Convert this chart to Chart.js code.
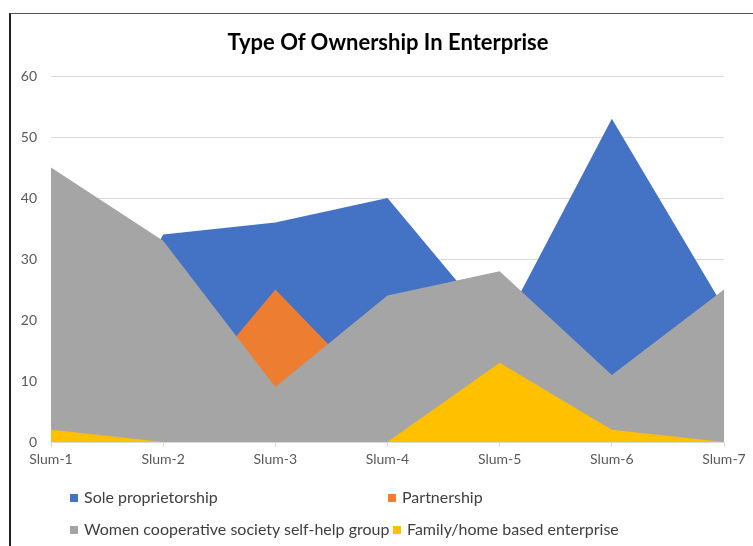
<!DOCTYPE html>
<html>
<head>
<meta charset="utf-8">
<script src="https://cdn.jsdelivr.net/npm/chart.js@4/dist/chart.umd.min.js"></script>
<style>
  html, body { margin: 0; padding: 0; background: #fff; }
  #wrap { position: relative; width: 753px; height: 546px; overflow: hidden; }
  #frame { position: absolute; left: 9px; top: 13px; width: 900px; height: 700px;
           border-left: 2px solid #222; border-top: 1px solid #555; }
  #myChart { position: absolute; left: 0; top: 0; }
  #title { position: absolute; left: 188px; width: 400px; top: 28px; text-align: center;
           font-family: Lato, sans-serif; font-weight: bold; font-size: 22px; color: #000; line-height: 28px; }
  .leg { position: absolute; font-family: Lato, sans-serif; font-size: 16px; color: #404040;
         white-space: nowrap; line-height: 18px; }
  .leg span { display: inline-block; width: 8px; height: 8px; margin-right: 6px; vertical-align: 1px; }
</style>
</head>
<body>
<div id="wrap">
  <div id="frame"></div>
  <canvas id="myChart" width="753" height="546"></canvas>
  <div id="title">Type Of Ownership In Enterprise</div>
</div>
<script>
// Data
const labels = ['Slum-1', 'Slum-2', 'Slum-3', 'Slum-4', 'Slum-5', 'Slum-6', 'Slum-7'];
const soleProprietorship = [0, 34, 36, 40, 18, 53, 22];
const partnership = [1, 3, 25, 6, 4, 2, 1];
const womenCooperative = [45, 33, 9, 24, 28, 11, 25];
const familyHome = [2, 0, 0, 0, 13, 2, 0];
const yTicks = [0, 10, 20, 30, 40, 50, 60];

const seriesNames = [
  'Sole proprietorship',
  'Partnership',
  'Women cooperative society self-help group',
  'Family/home based enterprise',
];
const colors = ['#4472C4', '#ED7D31', '#A5A5A5', '#FFC000'];

function area(i, values) {
  return {
    label: seriesNames[i],
    data: values,
    backgroundColor: colors[i],
    borderColor: colors[i],
    borderWidth: 0,
    fill: 'origin',
    pointRadius: 0,
    tension: 0,
    order: 4 - i,
  };
}

const data = {
  labels: labels,
  datasets: [
    area(0, soleProprietorship),
    area(1, partnership),
    area(2, womenCooperative),
    area(3, familyHome),
  ],
};

const config = {
  type: 'line',
  data: data,
  options: {
    responsive: false,
    animation: false,
    layout: { padding: { left: 0, right: 29, top: 76, bottom: 74 } },
    plugins: {
      legend: { display: false },
      tooltip: { enabled: false },
    },
    scales: {
      x: {
        offset: false,
        grid: { drawOnChartArea: false, drawTicks: true, tickLength: 5, color: '#d9d9d9' },
        border: { display: true, color: '#d9d9d9' },
        ticks: { color: '#595959', font: { family: 'Lato', size: 14 }, padding: 4, maxRotation: 0, autoSkip: false },
        afterFit: (scale) => { scale.height = 30; },
      },
      y: {
        min: 0,
        max: 60,
        afterBuildTicks: (scale) => { scale.ticks = yTicks.map((v) => ({ value: v })); },
        grid: { color: '#d9d9d9', drawTicks: false },
        border: { display: false },
        ticks: { color: '#595959', font: { family: 'Lato', size: 14 }, padding: 14 },
        afterFit: (scale) => { scale.width = 51; },
      },
    },
  },
};

const myChart = new Chart(document.getElementById('myChart'), config);

// Legend (two columns, like the original)
const legendPos = [
  [70, 488],
  [388, 488],
  [70, 520],
  [393, 520],
];
const wrap = document.getElementById('wrap');
seriesNames.forEach((name, i) => {
  const el = document.createElement('div');
  el.className = 'leg';
  el.style.left = legendPos[i][0] + 'px';
  el.style.top = legendPos[i][1] + 'px';
  el.innerHTML = `<span style="background:${colors[i]}"></span>${name}`;
  wrap.appendChild(el);
});
</script>
</body>
</html>
